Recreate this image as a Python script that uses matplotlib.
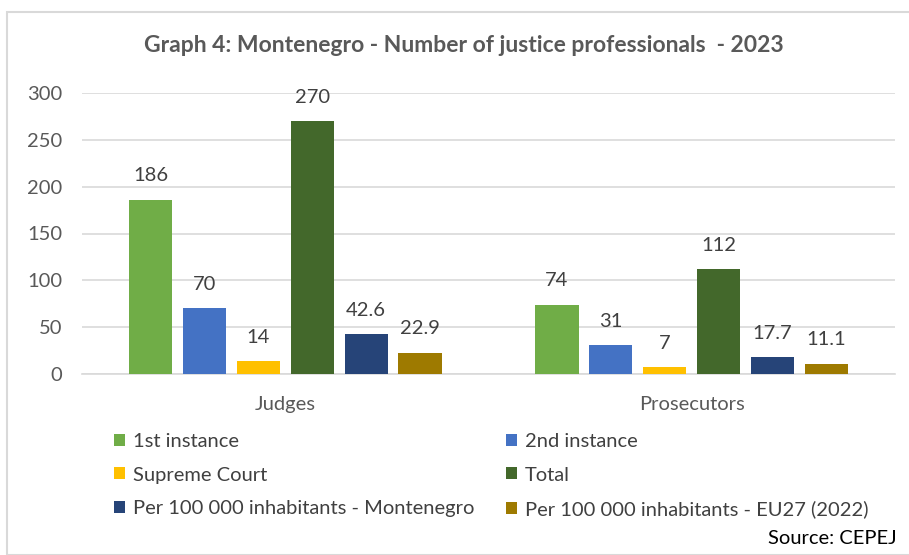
import matplotlib
matplotlib.use("Agg")
import matplotlib.pyplot as plt
from matplotlib.patches import Rectangle, Patch
import numpy as np

plt.rcParams['font.family'] = ['Lato', 'DejaVu Sans']

categories = ["Judges", "Prosecutors"]
series_names = ["1st instance", "2nd instance", "Supreme Court", "Total",
                "Per 100 000 inhabitants - Montenegro", "Per 100 000 inhabitants - EU27 (2022)"]
first_instance = [186, 74]
second_instance = [70, 31]
supreme_court = [14, 7]
total = [270, 112]
per100k_mne = [42.6, 17.7]
per100k_eu = [22.9, 11.1]
value_labels = [["186", "74"], ["70", "31"], ["14", "7"], ["270", "112"], ["42.6", "17.7"], ["22.9", "11.1"]]
colors = ["#70AD47", "#4472C4", "#FFC000", "#43682B", "#264478", "#9E7A00"]

series = [first_instance, second_instance, supreme_court, total, per100k_mne, per100k_eu]

W, H = 909, 555
fig = plt.figure(figsize=(W/100, H/100), dpi=100)
fig.patches.append(Rectangle((7/W, 0), 1.0, 1 - 12/H, transform=fig.transFigure,
                             fill=False, edgecolor="#D9D9D9", linewidth=1.5))

ax = fig.add_axes([82/W, 1 - 374/H, (895-82)/W, (374-93)/H])
x = np.arange(len(categories))
pitch = 0.1326
width = 0.106
for i, (vals, col) in enumerate(zip(series, colors)):
    offs = (i - 2.5) * pitch
    bars = ax.bar(x + offs, vals, width, color=col, label=series_names[i], zorder=3)
    for b, lab in zip(bars, value_labels[i]):
        ax.text(b.get_x() + b.get_width()/2, b.get_height() + 25.5, lab,
                ha="center", va="center", fontsize=14.5, color="#404040")

ax.set_xlim(-0.5, 1.5)
ax.set_ylim(0, 300)
ax.set_yticks(range(0, 301, 50))
ax.yaxis.grid(True, color="#D9D9D9", linewidth=1.2, zorder=0)
for s in ["top", "right", "left"]:
    ax.spines[s].set_visible(False)
ax.spines["bottom"].set_color("#D9D9D9")
ax.spines["bottom"].set_linewidth(1.2)
ax.tick_params(axis="both", length=0, labelsize=14.5, colors="#595959")
ax.tick_params(axis="y", pad=14)
ax.set_xticks(x)
ax.set_xticklabels(categories)
ax.tick_params(axis="x", pad=16)

fig.text(464/W, 1 - 46/H, "Graph 4: Montenegro - Number of justice professionals  - 2023",
         ha="center", va="center", fontsize=16.5, fontweight="bold", color="#595959")

handles = [Patch(facecolor=c, edgecolor="none") for c in colors]
leg_kw = dict(loc="upper left", frameon=False, fontsize=14.5, handlelength=0.55,
              handleheight=0.55, handletextpad=0.4, labelspacing=0.82,
              borderpad=0, borderaxespad=0, labelcolor="#404040")
leg1 = fig.legend([handles[0], handles[2], handles[4]],
                  [series_names[0], series_names[2], series_names[4]],
                  bbox_to_anchor=(114/W, 1 - 433/H), **leg_kw)
leg2 = fig.legend([handles[1], handles[3], handles[5]],
                  [series_names[1], series_names[3], series_names[5]],
                  bbox_to_anchor=(506/W, 1 - 433/H), **leg_kw)

fig.text(897/W, 1 - 538/H, "Source: CEPEJ", ha="right", va="center", fontsize=14.5, color="black")

fig.savefig("out.png", dpi=100)
